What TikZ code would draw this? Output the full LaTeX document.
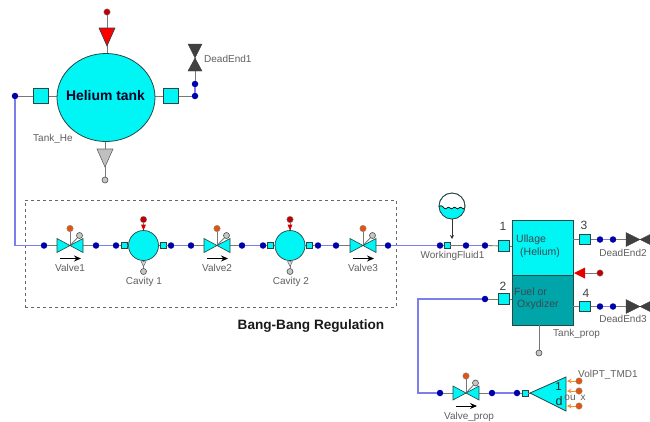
\documentclass[tikz,border=0pt]{standalone}
\usepackage{fontspec}
\setmainfont{Liberation Sans}
\usetikzlibrary{arrows.meta}
\definecolor{tcyan}{RGB}{0,245,245}
\definecolor{tdark}{RGB}{0,165,170}
\definecolor{dotblue}{RGB}{0,0,170}
\definecolor{linkblue}{RGB}{125,125,235}
\definecolor{linkgray}{RGB}{120,120,120}
\definecolor{txtgray}{RGB}{95,95,95}
\definecolor{edgeg}{RGB}{40,70,70}
\definecolor{orangedot}{RGB}{225,85,20}
\definecolor{orangearr}{RGB}{240,145,45}
\tikzset{
  dotn/.style={circle,fill=dotblue,draw=none,inner sep=0,minimum size=6.5pt},
  reddot/.style={circle,fill=red!75!black,draw=gray,line width=.3pt,inner sep=0,minimum size=6.5pt},
  graydot/.style={circle,fill=gray!45,draw=black!70,line width=.6pt,inner sep=0,minimum size=6pt},
  orgdot/.style={circle,fill=orangedot,draw=gray,line width=.3pt,inner sep=0,minimum size=6.5pt},
  bigsq/.style={rectangle,fill=tcyan,draw=edgeg,line width=.7pt,inner sep=0,minimum size=15pt},
  smallsq/.style={rectangle,fill=tcyan,draw=edgeg,line width=.6pt,inner sep=0,minimum size=6pt},
  midsq/.style={rectangle,fill=tcyan,draw=edgeg,line width=.7pt,inner sep=0,minimum size=10.5pt},
  cav/.style={circle,fill=tcyan,draw=edgeg,line width=.7pt,inner sep=0,minimum size=30pt},
  lbl/.style={text=txtgray,font=\fontsize{10}{12}\selectfont,inner sep=0},
  numl/.style={text=black!75,font=\fontsize{12}{14}\selectfont,inner sep=0},
  tanktxt/.style={text=black!80!cyan,font=\fontsize{10.5}{12}\selectfont,inner sep=0,anchor=west},
  blink/.style={draw=linkblue,line width=1.3pt},
  glink/.style={draw=linkgray,line width=.9pt},
  tri/.style={draw=edgeg,line width=.6pt},
  flowarrow/.style={draw=black,line width=.9pt,-{Stealth[length=7pt,width=6pt]}},
}
% valve: name, x, y
\newcommand{\myvalve}[3]{%
  \coordinate (#1) at (#2,#3);
  \coordinate (#1w) at (#2-13,#3);
  \coordinate (#1e) at (#2+13,#3);
  \node[orgdot] (#1o) at (#2,#3-17) {};
  \node[graydot] (#1g) at (#2+9.5,#3-10) {};
  \draw[glink] (#1) -- (#1o);
  \draw[glink] (#1) -- (#1g);
  \fill[tcyan,tri,draw=edgeg] (#2-13,#3-7) -- (#2,#3) -- (#2-13,#3+7) -- cycle;
  \fill[tcyan,tri,draw=edgeg] (#2+13,#3-7) -- (#2,#3) -- (#2+13,#3+7) -- cycle;
  \coordinate (#1a) at (#2-10,#3+13);
  \coordinate (#1b) at (#2+11,#3+13);
  \draw[flowarrow] (#1a) -- (#1b);
}
% cavity: name, x, y
\newcommand{\mycavity}[3]{%
  \node[reddot] (#1r) at (#2,#3-26) {};
  \node[graydot] (#1d) at (#2,#3+26) {};
  \draw[glink] (#1r) -- (#2,#3-15);
  \draw[glink] (#1d) -- (#2,#3+15);
  \fill[red!85!black] (#2-2.5,#3-21) -- (#2+2.5,#3-21) -- (#2,#3-15) -- cycle;
  \filldraw[fill=gray!35,draw=black!70,line width=.4pt] (#2-2.5,#3+16) -- (#2+2.5,#3+16) -- (#2,#3+21) -- cycle;
  \node[smallsq] (#1w) at (#2-19.5,#3) {};
  \node[smallsq] (#1e) at (#2+19.5,#3) {};
  \draw[glink] (#1w) -- (#1e);
  \node[cav] (#1) at (#2,#3) {};
}
\begin{document}
\begin{tikzpicture}[x=1pt,y=-1pt]
\useasboundingbox[fill=white] (0,0) rectangle (650,421);
\begin{scope}
\clip (0,0) rectangle (650,421);
% dashed frame
\node[draw=black!60,dashed,line width=.7pt,minimum width=371pt,minimum height=107pt,inner sep=0] (frame) at (210.5,253.5) {};

% ---------- Helium tank
\node[reddot] (hered) at (107,12) {};
\node[graydot] (hegray) at (105,180) {};
\draw[glink] (hered) -- (107,54);
\draw[glink] (hegray) -- (105,141);
\node[dotn] (d0) at (15,96) {};
\node[bigsq] (heL) at (41,96) {};
\node[bigsq] (heR) at (171,96) {};
\node[dotn] (heD1) at (195,96) {};
\node[dotn] (heD2) at (195,84) {};
\draw[glink] (d0) -- (heL);
\draw[glink] (heL) -- (heR);
\draw[glink] (heR) -- (heD1);
\draw[blink] (heD1) -- (heD2);
\filldraw[fill=red,draw=edgeg,line width=.6pt] (99,28) -- (115,28) -- (107,46) -- cycle;
\filldraw[fill=gray!50,draw=black!60,line width=.6pt] (97,149) -- (113,149) -- (105,167) -- cycle;
\filldraw[fill=tcyan,draw=edgeg,line width=.8pt] (106,97.5) ellipse [x radius=49,y radius=44];
\node[font=\bfseries\fontsize{13.9}{15}\selectfont,text=black!85!blue,inner sep=0] (hetxt) at (105.5,96) {Helium tank};
\node[lbl,anchor=west] (helbl) at (33,139) {Tank\_He};
\coordinate (de1) at (195,58);
\draw[glink] (heD2) -- (de1);
\filldraw[fill=black!75,draw=black!75] (188,44) -- (202,44) -- (195,58) -- cycle;
\filldraw[fill=black!75,draw=black!75] (188,71) -- (202,71) -- (195,58) -- cycle;
\node[lbl,anchor=west] (de1lbl) at (204,59) {DeadEnd1};

% ---------- Main line nodes
\node[dotn] (m1) at (44,245.5) {};
\node[dotn] (m2) at (96,245.5) {};
\node[dotn] (m3) at (116,245.5) {};
\node[dotn] (m4) at (171,245.5) {};
\node[dotn] (m5) at (191,245.5) {};
\node[dotn] (m6) at (242,245.5) {};
\node[dotn] (m7) at (263,245.5) {};
\node[dotn] (m8) at (318,245.5) {};
\node[dotn] (m9) at (336,245.5) {};
\node[dotn] (m10) at (388,245.5) {};
\node[dotn] (m11) at (440,245.5) {};
\node[dotn] (m12) at (466,245.5) {};
\node[dotn] (m13) at (485,245.5) {};
\coordinate (cn1) at (15,245.5);
\draw[blink] (d0) -- (cn1) -- (m1);
\draw[blink] (m2) -- (m3);
\draw[blink] (m4) -- (m5);
\draw[blink] (m6) -- (m7);
\draw[blink] (m8) -- (m9);
\draw[blink] (m10) -- (m11);
\draw[blink] (m12) -- (m13);

% valves
\draw[glink] (m1) -- (m2);
\draw[glink] (m5) -- (m6);
\draw[glink] (m9) -- (m10);
\myvalve{va}{70}{245.5}
\myvalve{vb}{217}{245.5}
\myvalve{vc}{363}{245.5}
\node[lbl] (valbl) at (70,268) {Valve1};
\node[lbl] (vblbl) at (217,268) {Valve2};
\node[lbl] (vclbl) at (363,268) {Valve3};

% cavities
\mycavity{ca}{143.5}{245.5}
\mycavity{cb}{290}{245.5}
\draw[glink] (m3) -- (caw);
\draw[glink] (cae) -- (m4);
\draw[glink] (m7) -- (cbw);
\draw[glink] (cbe) -- (m8);
\node[lbl] (calbl) at (144,282) {Cavity 1};
\node[lbl] (cblbl) at (291,282) {Cavity 2};
\node[font=\bfseries\fontsize{13.6}{15}\selectfont,text=black!90,inner sep=0] (bang) at (311,326) {Bang-Bang Regulation};

% Working fluid
\node[smallsq] (wfs) at (447,245.5) {};
\draw[glink] (m11) -- (wfs);
\draw[glink] (wfs) -- (m12);
\node[circle,fill=white,draw=edgeg,line width=.7pt,minimum size=26pt,inner sep=0] (wf) at (452,206) {};
\begin{scope}
\clip (452,206) circle (13);
\fill[tcyan] (438,208) .. controls (440,205) and (442,205) .. (444,208) .. controls (446,211) and (448,205) .. (450,208) .. controls (452,211) and (454,205) .. (456,208) .. controls (458,211) and (460,205) .. (462,208) .. controls (464,211) and (466,205) .. (468,208) -- (468,222) -- (438,222) -- cycle;
\draw[black,line width=.7pt] (438,208) .. controls (440,205) and (442,205) .. (444,208) .. controls (446,211) and (448,205) .. (450,208) .. controls (452,211) and (454,205) .. (456,208) .. controls (458,211) and (460,205) .. (462,208) .. controls (464,211) and (466,205) .. (468,208);
\end{scope}
\coordinate (wfend) at (452,239);
\draw[black!80,line width=.7pt,-{Stealth[length=4pt,width=4pt]}] (wf) -- (wfend);
\node[circle,draw=edgeg,line width=.7pt,minimum size=26pt,inner sep=0] at (452,206) {};
\node[lbl] (wflbl) at (452.5,256) {WorkingFluid1};

% ---------- Propellant tank
\fill[tcyan] (512,220) rectangle (573,275);
\fill[tdark] (512,275) rectangle (573,325);
\draw[edgeg,line width=.8pt] (512,220) rectangle (573,325);
\draw[edgeg,line width=.6pt] (512,275) -- (573,275);
\node[tanktxt] (ullage) at (516,240) {Ullage};
\node[tanktxt] (helium) at (520,253) {(Helium)};
\node[tanktxt] (fuel) at (514,292) {Fuel or};
\node[tanktxt] (oxy) at (517,305) {Oxydizer};
\node[lbl,anchor=west] (tplbl) at (553,334) {Tank\_prop};
\node[graydot] (tpg) at (539,353) {};
\draw[glink] (539,325) -- (tpg);

\node[midsq] (s1) at (504,246) {};
\node[midsq] (s2) at (504,299) {};
\node[midsq] (s3) at (585,239.5) {};
\node[midsq] (s4) at (585,306.5) {};
\node[numl] (n1) at (503,226) {1};
\node[numl] (n2) at (503,286) {2};
\node[numl] (n3) at (584,225) {3};
\node[numl] (n4) at (586,293) {4};
\draw[glink] (m13) -- (s1);
\draw[glink] (s1) -- (512,246);
\node[dotn] (p2) at (485,299) {};
\draw[glink] (p2) -- (s2);
\draw[glink] (s2) -- (512,299);
\draw[glink] (573,239.5) -- (s3);
\draw[glink] (573,306.5) -- (s4);
\node[dotn] (q1) at (600,239.5) {};
\node[dotn] (q2) at (613,239.5) {};
\node[dotn] (r1) at (600,306.5) {};
\node[dotn] (r2) at (613,306.5) {};
\coordinate (de2) at (640,239.5);
\coordinate (de3) at (640,306.5);
\draw[glink] (s3) -- (q1);
\draw[blink] (q1) -- (q2);
\draw[glink] (q2) -- (de2);
\draw[glink] (s4) -- (r1);
\draw[blink] (r1) -- (r2);
\draw[glink] (r2) -- (de3);
\filldraw[fill=black!75,draw=black!75] (626,232.5) -- (640,239.5) -- (626,246.5) -- cycle;
\filldraw[fill=black!75,draw=black!75] (654,232.5) -- (640,239.5) -- (654,246.5) -- cycle;
\filldraw[fill=black!75,draw=black!75] (626,299.5) -- (640,306.5) -- (626,313.5) -- cycle;
\filldraw[fill=black!75,draw=black!75] (654,299.5) -- (640,306.5) -- (654,313.5) -- cycle;
\node[lbl] (de2lbl) at (623,253) {DeadEnd2};
\node[lbl] (de3lbl) at (623,318.5) {DeadEnd3};
\node[reddot] (tpr) at (600,273) {};
\draw[glink] (tpr) -- (585,273);
\fill[red!90!black] (585,267.5) -- (585,278.5) -- (574,273) -- cycle;

% ---------- Valve prop line
\node[dotn] (b1) at (440,393) {};
\node[dotn] (b2) at (492,393) {};
\node[dotn] (b3) at (517,393) {};
\node[smallsq] (bs) at (525,393) {};
\coordinate (cn2) at (418,299);
\coordinate (cn3) at (418,393);
\draw[blink] (p2) -- (cn2) -- (cn3) -- (b1);
\draw[glink] (b1) -- (b2);
\draw[blink] (b2) -- (b3);
\draw[glink] (b3) -- (bs);
\myvalve{vp}{466}{393}
\node[lbl] (vplbl) at (469,417) {Valve\_prop};

% sensor triangle
\draw[glink] (bs) -- (531,393);
\filldraw[fill=tcyan,draw=edgeg,line width=.8pt] (530,393) -- (566,377) -- (566,411) -- cycle;
\node[font=\fontsize{11.5}{12}\selectfont,text=black!85,inner sep=0,rotate=0] (t1) at (558.5,387) {1};
\node[font=\fontsize{12.5}{12}\selectfont,text=black!85,inner sep=0] (t2) at (559,401) {d};
\node[orgdot] (oa) at (579,381) {};
\node[orgdot] (ob) at (579,391) {};
\node[orgdot] (oc) at (579,406) {};
\draw[orangearr,line width=1pt,-{Stealth[length=4.5pt,width=4.5pt]}] (oa) -- (567,381);
\draw[orangearr,line width=1pt,-{Stealth[length=4.5pt,width=4.5pt]}] (ob) -- (567,391);
\draw[orangearr,line width=1pt,-{Stealth[length=4.5pt,width=4.5pt]}] (oc) -- (567,406);
\node[lbl,anchor=west] (vollbl) at (578,375) {VolPT\_TMD1};
\node[lbl] (ou) at (570,398) {ou};
\node[lbl] (xl) at (583,398) {x};
\end{scope}
\end{tikzpicture}
\end{document}
